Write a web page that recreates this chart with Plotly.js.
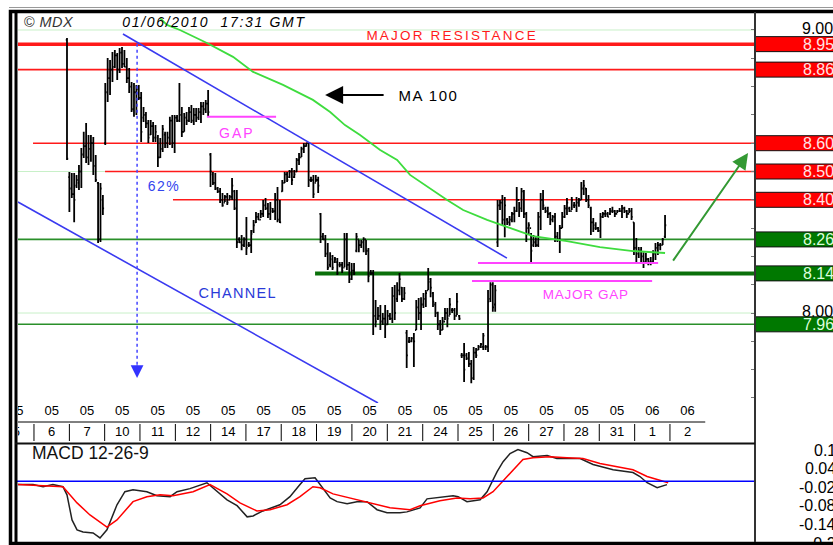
<!DOCTYPE html>
<html><head><meta charset="utf-8">
<script src="https://cdn.plot.ly/plotly-3.0.1.min.js"></script>
<style>html,body{margin:0;padding:0;background:#fff;}#chart{width:833px;height:545px;}</style>
</head><body><div id="chart"></div>
<script>
// ---------- DATA ----------
const barOpen = [8.965,8.48,8.44,8.42,8.45,8.46,8.50,8.56,8.59,8.55,8.58,8.60,8.52,8.46,8.26,8.40,8.60,8.78,8.83,8.86,8.87,8.91,8.86,8.92,8.88,8.87,8.83,8.80,8.72,8.78,8.79,8.76,8.69,8.70,8.67,8.63,8.66,8.62,8.62,8.55,8.58,8.63,8.60,8.62,8.68,8.60,8.69,8.68,8.70,8.64,8.69,8.68,8.71,8.68,8.70,8.69,8.71,8.73,8.72,8.74,
8.56,8.49,8.46,8.44,8.43,8.40,8.39,8.41,8.40,8.41,8.43,8.37,8.26,8.25,8.24,8.26,8.24,8.24,8.29,8.32,8.34,8.33,8.35,8.38,8.37,8.35,8.36,8.36,8.40,8.33,8.43,8.46,8.49,8.48,8.50,8.48,8.50,8.54,8.55,8.58,8.59,8.60,8.47,8.47,8.46,8.47,
8.35,8.27,8.26,8.21,8.17,8.19,8.18,8.18,8.17,8.17,8.16,8.26,8.17,8.12,8.15,8.22,8.26,8.24,8.25,8.26,8.22,8.14,8.14,7.99,7.98,7.99,7.97,7.98,7.96,7.99,7.98,8.06,8.05,8.08,8.09,8.05,7.93,7.90,7.90,7.91,7.94,8.02,8.00,8.03,8.05,8.08,8.11,8.07,8.03,8.00,7.96,7.94,7.97,8.00,7.99,8.01,8.01,7.99,7.99,
7.85,7.85,7.85,7.84,7.82,7.77,7.86,7.87,7.88,7.88,7.88,7.88,8.05,8.10,8.03,
8.25,8.38,8.39,8.33,8.33,8.32,8.33,8.35,8.36,8.40,8.37,8.43,8.35,8.30,8.30,8.24,8.25,8.24,8.34,8.40,8.37,8.36,8.35,8.33,8.34,8.27,8.26,8.30,8.34,8.37,8.37,8.36,8.38,8.38,8.39,8.40,8.44,8.44,8.40,8.37,8.32,8.31,8.30,8.29,8.34,8.35,8.35,8.35,8.36,8.36,8.35,8.36,8.36,8.37,8.36,8.35,8.36,8.32,8.23,8.21,8.22,8.20,8.18,8.19,8.18,8.18,8.21,8.23,8.24,8.24,8.27];
const barHigh = [8.972,8.498,8.495,8.495,8.488,8.523,8.583,8.640,8.671,8.629,8.629,8.622,8.558,8.463,8.459,8.417,8.813,8.901,8.894,8.922,8.929,8.919,8.936,8.940,8.929,8.901,8.866,8.816,8.813,8.806,8.806,8.781,8.728,8.710,8.682,8.682,8.675,8.664,8.629,8.618,8.664,8.640,8.640,8.693,8.700,8.700,8.700,8.813,8.728,8.707,8.710,8.728,8.735,8.724,8.724,8.724,8.746,8.746,8.753,8.788,
8.565,8.498,8.495,8.445,8.442,8.424,8.417,8.424,8.417,8.477,8.435,8.435,8.268,8.276,8.268,8.339,8.251,8.293,8.329,8.357,8.353,8.364,8.399,8.406,8.389,8.392,8.371,8.424,8.445,8.399,8.470,8.498,8.498,8.505,8.512,8.505,8.548,8.565,8.587,8.601,8.601,8.601,8.481,8.488,8.488,8.481,
8.353,8.283,8.276,8.247,8.215,8.205,8.198,8.194,8.180,8.180,8.283,8.283,8.180,8.177,8.177,8.283,8.258,8.258,8.268,8.258,8.230,8.152,8.152,8.046,8.021,8.028,8.000,8.028,8.011,8.000,8.092,8.099,8.109,8.141,8.092,8.092,7.940,7.915,7.915,7.929,8.046,8.053,8.056,8.071,8.081,8.159,8.124,8.074,8.039,8.004,7.975,7.986,8.018,8.018,8.053,8.018,8.018,8.071,7.993,
7.859,7.894,7.859,7.862,7.834,7.880,7.876,7.887,7.894,7.929,7.887,8.081,8.109,8.109,8.099,
8.399,8.399,8.417,8.410,8.336,8.343,8.357,8.375,8.445,8.392,8.442,8.435,8.357,8.321,8.283,8.276,8.268,8.357,8.424,8.435,8.375,8.375,8.357,8.346,8.353,8.286,8.311,8.357,8.382,8.406,8.375,8.410,8.392,8.410,8.406,8.463,8.470,8.442,8.417,8.375,8.336,8.321,8.304,8.353,8.357,8.364,8.357,8.371,8.375,8.364,8.364,8.371,8.382,8.375,8.364,8.371,8.371,8.321,8.265,8.233,8.233,8.215,8.212,8.194,8.198,8.222,8.247,8.251,8.247,8.265,8.346];
const barLow = [8.541,8.357,8.406,8.321,8.442,8.435,8.442,8.548,8.530,8.523,8.534,8.488,8.463,8.247,8.251,8.346,8.594,8.746,8.770,8.816,8.866,8.823,8.848,8.866,8.869,8.813,8.777,8.710,8.693,8.700,8.753,8.604,8.675,8.654,8.601,8.629,8.604,8.604,8.516,8.548,8.569,8.583,8.583,8.594,8.583,8.565,8.675,8.675,8.622,8.640,8.664,8.675,8.671,8.664,8.675,8.682,8.671,8.700,8.707,8.693,
8.445,8.452,8.435,8.424,8.389,8.375,8.392,8.382,8.399,8.399,8.364,8.230,8.247,8.222,8.233,8.205,8.233,8.212,8.283,8.318,8.329,8.336,8.339,8.364,8.336,8.329,8.353,8.329,8.321,8.318,8.428,8.459,8.463,8.477,8.452,8.477,8.498,8.523,8.551,8.565,8.587,8.445,8.463,8.406,8.463,8.424,
8.247,8.258,8.198,8.152,8.162,8.152,8.177,8.134,8.162,8.141,8.162,8.152,8.106,8.117,8.134,8.215,8.215,8.230,8.215,8.205,8.109,8.134,7.922,7.950,7.975,7.940,7.958,7.912,7.958,7.975,7.965,7.975,8.039,8.063,8.039,8.046,7.806,7.894,7.897,7.809,7.940,7.975,7.940,8.018,8.021,8.081,8.056,8.021,7.986,7.940,7.922,7.940,7.975,7.950,7.993,8.000,7.975,7.993,7.975,
7.841,7.756,7.834,7.809,7.752,7.763,7.841,7.869,7.876,7.869,7.869,7.862,8.039,8.004,8.004,
8.233,8.364,8.311,8.268,8.311,8.308,8.321,8.321,8.357,8.339,8.357,8.336,8.251,8.276,8.177,8.233,8.233,8.233,8.293,8.364,8.353,8.336,8.311,8.321,8.251,8.251,8.212,8.300,8.336,8.346,8.357,8.364,8.371,8.357,8.375,8.399,8.417,8.392,8.371,8.276,8.286,8.293,8.286,8.265,8.336,8.339,8.339,8.346,8.353,8.339,8.353,8.357,8.336,8.353,8.336,8.353,8.329,8.205,8.180,8.194,8.180,8.159,8.177,8.169,8.169,8.177,8.187,8.205,8.222,8.240,8.265];
const barClose = [8.545,8.44,8.42,8.40,8.47,8.50,8.56,8.59,8.55,8.58,8.60,8.52,8.47,8.26,8.44,8.37,8.78,8.83,8.86,8.87,8.91,8.86,8.92,8.88,8.87,8.83,8.80,8.72,8.78,8.79,8.76,8.64,8.70,8.67,8.62,8.66,8.62,8.64,8.55,8.58,8.65,8.60,8.62,8.68,8.60,8.69,8.68,8.70,8.64,8.69,8.68,8.71,8.68,8.70,8.69,8.71,8.73,8.72,8.74,8.71,
8.50,8.46,8.44,8.43,8.40,8.38,8.41,8.39,8.41,8.45,8.37,8.25,8.25,8.24,8.26,8.23,8.24,8.28,8.31,8.34,8.33,8.35,8.38,8.37,8.35,8.37,8.36,8.40,8.33,8.32,8.46,8.49,8.47,8.50,8.47,8.49,8.54,8.55,8.58,8.59,8.60,8.47,8.47,8.42,8.47,8.45,
8.27,8.26,8.21,8.16,8.20,8.16,8.19,8.14,8.17,8.15,8.26,8.17,8.12,8.15,8.14,8.27,8.24,8.25,8.26,8.22,8.13,8.14,7.99,7.97,7.99,7.97,7.98,7.96,7.99,7.98,8.06,8.00,8.08,8.12,8.05,8.07,7.85,7.90,7.91,7.90,8.02,8.00,8.03,8.05,8.07,8.12,8.09,8.04,8.00,7.96,7.94,7.97,8.00,7.98,8.03,8.01,7.99,8.04,7.98,
7.85,7.80,7.84,7.82,7.77,7.86,7.85,7.88,7.89,7.92,7.88,8.04,8.10,8.02,8.08,
8.38,8.39,8.33,8.38,8.32,8.33,8.35,8.36,8.40,8.37,8.43,8.35,8.30,8.31,8.22,8.25,8.24,8.34,8.40,8.38,8.36,8.35,8.33,8.34,8.27,8.26,8.30,8.34,8.37,8.39,8.36,8.40,8.38,8.39,8.40,8.44,8.45,8.40,8.38,8.32,8.30,8.30,8.29,8.34,8.35,8.35,8.34,8.36,8.36,8.35,8.36,8.36,8.37,8.36,8.35,8.36,8.34,8.23,8.21,8.22,8.20,8.18,8.19,8.18,8.18,8.21,8.23,8.24,8.24,8.26,8.31];

// 100-period moving average (sampled), x in bar numbers
const maX   = [38.9,41.8,47.2,58.5,69.4,77.8,90.3,102.8,110.0,116.2,122.5,130.9,138.0,143.4,158.9,165.6,175.6,185.2,194.8,209.0,222.8,236.6,250.0];
const maVal = [9.042,9.018,9.000,8.954,8.905,8.852,8.806,8.753,8.710,8.664,8.629,8.576,8.541,8.488,8.399,8.364,8.329,8.300,8.272,8.254,8.233,8.219,8.212];

// MACD 12-26-9
const macdX   = [-20.5,-14.2,-10.0,-5.9,-1.7,0,2.1,4.2,6.7,10.9,13.8,16.7,20.9,24.2,27.6,33.4,37.6,43.1,46.0,51.4,58.5,61.0,66.9,71.1,75.3,77.8,81.9,89.0,93.2,97.4,99.5,103.7,105.8,110.0,112.9,117.1,121.2,125.4,129.6,133.8,139.2,142.1,147.6,150.5,161.4,163.5,167.2,172.7,175.6,178.1,179.8,182.3,185.2,188.5,192.3,194.8,200.7,204.8,214.5,219.9,228.3,236.6,239.5,242.5,246.7,250.8];
const macdVal = [-0.011,-0.011,-0.018,-0.011,-0.018,-0.044,-0.125,-0.157,-0.164,-0.167,-0.183,-0.157,-0.076,-0.034,-0.028,-0.034,-0.047,-0.050,-0.034,-0.024,-0.005,-0.021,-0.060,-0.079,-0.115,-0.112,-0.096,-0.076,-0.050,-0.011,0.008,0.011,-0.011,-0.054,-0.066,-0.073,-0.066,-0.066,-0.092,-0.102,-0.102,-0.099,-0.086,-0.057,-0.047,-0.050,-0.066,-0.060,-0.034,0.005,0.031,0.063,0.089,0.102,0.092,0.079,0.083,0.073,0.073,0.054,0.037,0.028,0.015,-0.005,-0.021,-0.011];
const signalX   = [-20.5,-1.7,4.2,9.6,16.7,20.9,27.6,33.4,38.9,44.3,52.7,59.8,66.9,72.3,79.4,84.9,92.0,97.4,102.8,105.8,111.2,119.6,125.4,135.0,143.4,147.6,155.9,163.0,168.5,173.9,178.1,182.3,186.5,190.6,194.8,201.9,209.0,215.7,222.8,229.9,236.6,242.5,247.9,251.3];
const signalVal = [-0.011,-0.018,-0.070,-0.109,-0.148,-0.125,-0.066,-0.050,-0.044,-0.047,-0.034,-0.011,-0.041,-0.070,-0.096,-0.092,-0.076,-0.050,-0.018,-0.021,-0.041,-0.057,-0.066,-0.086,-0.092,-0.079,-0.063,-0.054,-0.057,-0.054,-0.034,0.002,0.037,0.070,0.076,0.079,0.076,0.073,0.057,0.047,0.037,0.015,0.002,-0.005];

// horizontal support / resistance levels and where each starts (bar number)
const resistanceLevels = [8.95, 8.86, 8.60, 8.50, 8.40];
const resistanceStart  = [-20.5, -20.5, -14.2, 15.9, 44.3];
const supportLevels    = [8.26, 8.14, 7.96];
const supportStart     = [-20.5, 103.7, -20.5];
const gridPrices = [9.0, 8.5, 8.0];
const priceAxisTicks = [9.00, 8.00];
const macdAxisTicks = [0.1, 0.04, -0.02, -0.08, -0.14, -0.2];
const macdAxisText = ['0.1','0.04','-0.02','-0.08','-0.14','-0.2'];

// drawn annotations (bar number, price)
const channelUpperX = [23.4, 183.9], channelUpperY = [8.986, 8.194];
const channelLowerX = [-20.5, 130.0], channelLowerY = [8.392, 7.682];
const gapX = [58.5, 87.4], gapY = 8.693;
const majorGapUpperX = [171.8, 247.1], majorGapUpperY = 8.177;
const majorGapLowerX = [169.3, 244.6], majorGapLowerY = 8.113;
const fibX = 29.3, fibTop = 8.951, fibBottom = 7.80, fibTip = 7.770;
const maArrowTip = [107.9, 8.770];
const upArrowTip = [284.7, 8.565];

// time axis
const dayLabels   = ['5','6','7','10','11','12','14','17','18','19','20','21','24','25','26','27','28','31','1','2'];
const monthLabels = ['05','05','05','05','05','05','05','05','05','05','05','05','05','05','05','05','05','05','06','06'];
const dayCenters  = [-21.2,-6.4,8.4,23.1,37.9,52.7,67.4,82.2,96.9,111.7,126.5,141.3,156.1,170.8,185.6,200.4,215.1,229.9,244.7,259.4];

// ---------- LAYOUT HELPERS ----------
const W = 833, H = 545;
const P = px => px / W;
const Q = py => 1 - py / H;
const barIndex = barHigh.map((_, i) => i);
const XMIN = -20.48, XMAX = 287.6;
const MACD_MIN = -0.1897, MACD_MAX = 0.1216, MACD_PX = 0.003243;
const FONT = 'Liberation Sans, Arial, sans-serif';
const RED = '#ff1a1a', MAG = '#ff44ff', BLUE = '#3a3af0';

const traces = [
  {type:'scatter', mode:'lines', x:maX, y:maVal, xaxis:'x', yaxis:'y', line:{color:'#3edc3e', width:1.8}, hoverinfo:'skip'},
  {type:'ohlc', x:barIndex, open:barOpen, high:barHigh, low:barLow, close:barClose, xaxis:'x', yaxis:'y',
   increasing:{line:{color:'#000', width:1.8}}, decreasing:{line:{color:'#000', width:1.8}}, tickwidth:0.5, hoverinfo:'skip'},
  {type:'scatter', mode:'lines', x:macdX, y:macdVal, xaxis:'x', yaxis:'y2', line:{color:'#222', width:1.5}, hoverinfo:'skip'},
  {type:'scatter', mode:'lines', x:signalX, y:signalVal, xaxis:'x', yaxis:'y2', line:{color:'#ff0000', width:1.5}, hoverinfo:'skip'},
  {type:'scatter', mode:'text', x:dayCenters, y:dayCenters.map(()=>0.775), text:monthLabels, xaxis:'x', yaxis:'y3',
   textposition:'middle center', textfont:{family:FONT, size:13, color:'#000'}, cliponaxis:true, hoverinfo:'skip'},
  {type:'scatter', mode:'text', x:dayCenters, y:dayCenters.map(()=>0.25), text:dayLabels, xaxis:'x', yaxis:'y3',
   textposition:'middle center', textfont:{family:FONT, size:13, color:'#000'}, cliponaxis:true, hoverinfo:'skip'},
  {type:'scatter', mode:'text', x:priceAxisTicks.map(()=>802), y:priceAxisTicks, text:priceAxisTicks.map(v=>v.toFixed(2)),
   xaxis:'x2', yaxis:'y', textposition:'middle right', textfont:{family:FONT, size:16, color:'#000'}, cliponaxis:false, hoverinfo:'skip'}
];

const shapes = [];
gridPrices.forEach(p => shapes.push({type:'line', xref:'paper', yref:'y', x0:P(18), x1:P(755), y0:p, y1:p, line:{color:'#c8f0c8', width:1}, layer:'below'}));
const resW = [3.5, 1.8, 1.6, 1.6, 1.6];
resistanceLevels.forEach((p,i) => shapes.push({type:'line', xref:'x', yref:'y', x0:resistanceStart[i], x1:XMAX+20, y0:p, y1:p, line:{color:RED, width:resW[i]}, layer:'below'}));
const supW = [1.6, 4, 1.6], supC = ['#2a8f2a', '#0a700a', '#2a8f2a'];
supportLevels.forEach((p,i) => shapes.push({type:'line', xref:'x', yref:'y', x0:supportStart[i], x1:XMAX+20, y0:p, y1:p, line:{color:supC[i], width:supW[i]}, layer:'below'}));
shapes.push({type:'line', xref:'x', yref:'y', x0:channelUpperX[0], x1:channelUpperX[1], y0:channelUpperY[0], y1:channelUpperY[1], line:{color:BLUE, width:1.6}});
shapes.push({type:'line', xref:'x', yref:'y', x0:channelLowerX[0], x1:channelLowerX[1], y0:channelLowerY[0], y1:channelLowerY[1], line:{color:BLUE, width:1.6}});
shapes.push({type:'line', xref:'x', yref:'y', x0:gapX[0], x1:gapX[1], y0:gapY, y1:gapY, line:{color:MAG, width:2}});
shapes.push({type:'line', xref:'x', yref:'y', x0:majorGapUpperX[0], x1:majorGapUpperX[1], y0:majorGapUpperY, y1:majorGapUpperY, line:{color:MAG, width:2}});
shapes.push({type:'line', xref:'x', yref:'y', x0:majorGapLowerX[0], x1:majorGapLowerX[1], y0:majorGapLowerY, y1:majorGapLowerY, line:{color:MAG, width:2}});
shapes.push({type:'line', xref:'x', yref:'y', x0:fibX, x1:fibX, y0:fibTop, y1:fibBottom, line:{color:'#4444ff', width:1.5, dash:'dot'}});
const allLevels = resistanceLevels.concat(supportLevels);
allLevels.forEach((p,i) => shapes.push({type:'rect', xref:'paper', yref:'y', x0:P(755), x1:P(850), y0:p-0.0265, y1:p+0.0265,
  fillcolor: i < resistanceLevels.length ? '#ff0000' : '#007800', line:{color:'#111', width:1}, layer:'above'}));
for (let i = 0; i < dayCenters.length - 1; i++) {
  const xm = (dayCenters[i] + dayCenters[i+1]) / 2;
  shapes.push({type:'line', xref:'x', yref:'y3', x0:xm, x1:xm, y0:0.05, y1:0.475, line:{color:'#000', width:1}});
}
shapes.push({type:'line', xref:'x', yref:'y3', x0:XMIN-5, x1:dayCenters[dayCenters.length-1]+7.4, y0:0.525, y1:0.525, line:{color:'#000', width:1}});
shapes.push({type:'line', xref:'paper', yref:'y2', x0:P(16), x1:P(755), y0:0, y1:0, line:{color:'#0000ff', width:1.5}});
shapes.push({type:'line', xref:'paper', yref:'paper', x0:P(9), x1:1.02, y0:Q(7.5), y1:Q(7.5), line:{color:'#999', width:1}});
shapes.push({type:'rect', xref:'paper', yref:'paper', x0:P(10.5), x1:P(850), y0:Q(543.5), y1:Q(11.5), line:{color:'#000', width:3.5}, fillcolor:'rgba(0,0,0,0)'});
shapes.push({type:'line', xref:'paper', yref:'paper', x0:P(16), x1:P(16), y0:Q(11), y1:Q(543), line:{color:'#000', width:3}});
shapes.push({type:'line', xref:'paper', yref:'paper', x0:P(755), x1:P(755), y0:Q(12), y1:Q(542), line:{color:'#333', width:2}});
shapes.push({type:'line', xref:'paper', yref:'paper', x0:P(15), x1:P(755), y0:Q(443.5), y1:Q(443.5), line:{color:'#111', width:2}});

const ann = (px, py, text, size, color, extra) => Object.assign({xref:'paper', yref:'paper', x:P(px), y:Q(py), text:text, showarrow:false,
  xanchor:'left', yanchor:'middle', font:{family:FONT, size:size, color:color}, borderpad:0}, extra||{});

const annotations = [
  ann(383, 35, 'MAJOR RESISTANCE', 13.5, RED),
  ann(401.5, 95, 'MA 100', 15, '#000'),
  ann(220.5, 133, 'GAP', 14, MAG),
  ann(149, 186, '62%', 14, '#3344ee'),
  ann(201.5, 293, 'CHANNEL', 14.5, '#2a3ad8'),
  ann(545, 294, 'MAJOR GAP', 13.5, MAG),
  ann(24, 22, '<i>©\u00a0MDX</i>', 14.5, '#333'),
  ann(139, 22, '<i>01/06/2010\u00a0\u00a017:31 GMT</i>', 14, '#000'),
  ann(31, 453, 'MACD 12-26-9', 17.5, '#111'),
  {xref:'x', yref:'y', x:maArrowTip[0], y:maArrowTip[1], ax:60, ay:0, text:'', showarrow:true, arrowhead:2, arrowsize:1.8, arrowwidth:2, arrowcolor:'#000', standoff:0},
  {xref:'x', yref:'y', x:upArrowTip[0], y:upArrowTip[1], ax:-76, ay:109, text:'', showarrow:true, arrowhead:2, arrowsize:1.6, arrowwidth:2, arrowcolor:'#339933', standoff:0},
  {xref:'x', yref:'y', x:fibX, y:fibTip, ax:0, ay:-14, text:'', showarrow:true, arrowhead:2, arrowsize:1.7, arrowwidth:1.5, arrowcolor:'#3333ff', standoff:0}
];
allLevels.forEach((p,i) => annotations.push({xref:'paper', yref:'y', x:P(802), y:p, text:p.toFixed(2), showarrow:false, xanchor:'left', yanchor:'middle',
  font:{family:FONT, size:16, color: i < resistanceLevels.length ? '#ffe4e4' : '#dcffdc'}, borderpad:0}));
macdAxisTicks.forEach((v,i) => {
  // a label whose value lies just below the panel is pinned to the panel edge and shifted by the pixel remainder
  const inside = Math.max(v, MACD_MIN + 0.0005);
  annotations.push({xref:'paper', yref:'y2', x:P(837), y:inside, yshift:(v - inside) / MACD_PX, text:macdAxisText[i], showarrow:false,
    xanchor:'right', yanchor:'middle', font:{family:FONT, size:16, color:'#000'}, borderpad:0});
});

const layout = {
  width:W, height:H, margin:{l:0, r:0, t:0, b:0}, paper_bgcolor:'#fff', plot_bgcolor:'#fff',
  showlegend:false, hovermode:false, font:{family:FONT, size:13, color:'#000'},
  xaxis:{domain:[P(18), P(755)], range:[XMIN, XMAX], anchor:'y', showgrid:false, zeroline:false, showticklabels:false, ticks:'', showline:false, rangeslider:{visible:false}, fixedrange:true},
  xaxis2:{domain:[P(755), 1], range:[755, 833], anchor:'y', visible:false, fixedrange:true},
  yaxis:{domain:[Q(403), Q(14)], range:[7.682, 9.0565], anchor:'x', side:'right', showgrid:false, zeroline:false, showticklabels:false,
         ticks:'inside', ticklen:4, tickcolor:'#777', tickwidth:1, dtick:0.1, tick0:8, showline:false, fixedrange:true},
  yaxis2:{domain:[Q(540), Q(443.5)], range:[MACD_MIN, MACD_MAX], anchor:'x', showgrid:false, zeroline:false, showticklabels:false, ticks:'', fixedrange:true},
  yaxis3:{domain:[Q(443), Q(403)], range:[0, 1], anchor:'x', visible:false, fixedrange:true},
  shapes:shapes, annotations:annotations
};

Plotly.newPlot('chart', traces, layout, {staticPlot:true, displayModeBar:false}).then(() => {
  const spacing = [['MAJOR RESISTANCE','2.2px'],['MAJOR GAP','0.7px'],['MA 100','1.5px'],['GAP','2px'],['62%','1.5px'],['CHANNEL','1.3px'],['GMT','1.7px'],['MDX','0.5px']];
  document.querySelectorAll('g.annotation text').forEach(t => {
    const s = t.textContent;
    for (const [k,v] of spacing) {
      const hit = (k === 'GMT' || k === 'MDX') ? s.indexOf(k) >= 0 : s === k;
      if (hit) { t.style.letterSpacing = v; break; }
    }
  });
});
</script></body></html>
